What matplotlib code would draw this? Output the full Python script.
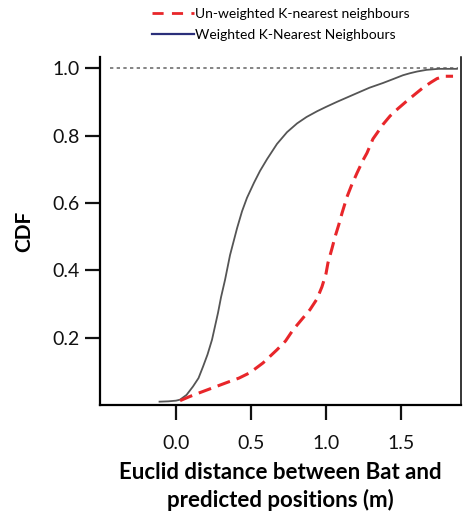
import matplotlib
matplotlib.use("Agg")
import matplotlib.pyplot as plt
from matplotlib.lines import Line2D

plt.rcParams['font.family'] = ['Lato', 'DejaVu Sans']

# Weighted K-Nearest Neighbours CDF
w_x = [-0.11, -0.05, 0.0, 0.027, 0.07, 0.113, 0.15, 0.18, 0.21, 0.24, 0.28, 0.30, 0.327,
       0.36, 0.407, 0.44, 0.473, 0.52, 0.56, 0.607, 0.673, 0.74, 0.807, 0.87, 0.94, 1.0,
       1.073, 1.14, 1.207, 1.29, 1.38, 1.45, 1.513, 1.56, 1.607, 1.67, 1.75, 1.873]
w_y = [0.010, 0.011, 0.013, 0.016, 0.03, 0.055, 0.08, 0.114, 0.15, 0.194, 0.274, 0.32, 0.372,
       0.445, 0.525, 0.575, 0.615, 0.66, 0.695, 0.73, 0.775, 0.81, 0.836, 0.855, 0.872, 0.885,
       0.9, 0.913, 0.926, 0.942, 0.956, 0.968, 0.979, 0.985, 0.99, 0.995, 0.998, 0.998]

# Un-weighted K-nearest neighbours CDF
u_x = [0.027, 0.09, 0.16, 0.25, 0.34, 0.42, 0.493, 0.58, 0.673, 0.73, 0.78, 0.84, 0.893,
       0.94, 0.973, 1.0, 1.013, 1.04, 1.06, 1.085, 1.107, 1.14, 1.17, 1.207, 1.247, 1.273,
       1.313, 1.34, 1.38, 1.427, 1.48, 1.54, 1.6, 1.647, 1.7, 1.74, 1.79, 1.847]
u_y = [0.013, 0.025, 0.037, 0.052, 0.067, 0.08, 0.096, 0.125, 0.164, 0.19, 0.223, 0.255, 0.283,
       0.315, 0.351, 0.39, 0.422, 0.465, 0.499, 0.535, 0.57, 0.618, 0.652, 0.689, 0.727, 0.748,
       0.79, 0.807, 0.833, 0.858, 0.88, 0.903, 0.925, 0.942, 0.958, 0.969, 0.976, 0.976]

x_ticks = [0.0, 0.5, 1.0, 1.5]
x_ticklabels = ["0.0", "0.5", "1.0", "1.5"]
y_ticks = [0.2, 0.4, 0.6, 0.8, 1.0]
y_ticklabels = ["0.2", "0.4", "0.6", "0.8", "1.0"]

labels = ["Un-weighted K-nearest neighbours", "Weighted K-Nearest Neighbours"]

fig = plt.figure(figsize=(4.64, 5.14), dpi=100)
ax = fig.add_axes([0.2155, 0.212, 0.778, 0.677])

ax.plot([-0.44, 1.88], [1.0, 1.0], color='#707070', lw=1.2, ls=(0, (2, 2)))
ax.plot(w_x, w_y, color='#555555', lw=1.3)
ax.plot(u_x, u_y, color='#e8262a', lw=2.2, ls=(0, (4.3, 2.3)))

ax.set_xlim(-0.507, 1.9)
ax.set_ylim(0, 1.033)
ax.set_xticks(x_ticks)
ax.set_xticklabels(x_ticklabels)
ax.set_yticks(y_ticks)
ax.set_yticklabels(y_ticklabels)
ax.tick_params(axis='both', direction='out', length=10.5, width=1.6, labelsize=14,
               colors='#111111')
ax.tick_params(axis='x', pad=11)
ax.tick_params(axis='y', pad=4)

ax.spines['top'].set_visible(False)
for s in ['left', 'bottom']:
    ax.spines[s].set_linewidth(1.6)
ax.spines['right'].set_linewidth(1.1)

ax.set_xlabel("Euclid distance between Bat and\npredicted positions (m)", fontsize=16,
              fontweight='bold', linespacing=1.35, labelpad=7)
ax.set_ylabel("CDF", fontsize=15, fontweight='bold', labelpad=13)

handles = [Line2D([0], [0], color='#e8262a', lw=2.0, ls=(0, (4, 3))),
           Line2D([0], [0], color='#2b2f7a', lw=1.6)]
fig.legend(handles, labels, loc='upper left', bbox_to_anchor=(0.31, 1.0),
           frameon=False, fontsize=10, handlelength=3.0, handletextpad=0.1,
           labelspacing=0.6, borderaxespad=0.2)

fig.savefig("out.png", dpi=100)
